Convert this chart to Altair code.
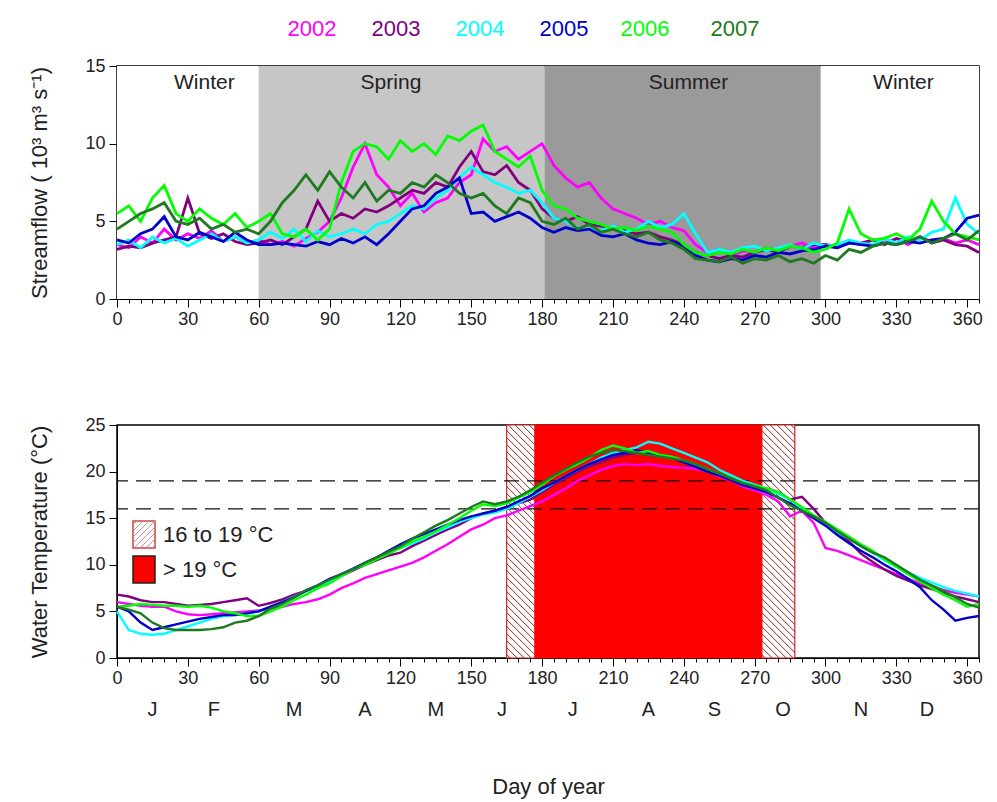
import altair as alt
import pandas as pd

# ---------------- data ----------------
days = list(range(0, 366, 5))
years = ["2002", "2003", "2004", "2005", "2006", "2007"]
year_colors = ["#ff00ff", "#800080", "#00ffff", "#0000cc", "#00ff00", "#1f7a1f"]

flow_2002 = [3.5, 3.3, 4.0, 3.6, 4.5, 3.8, 4.2, 3.9, 4.4, 3.7,
             4.0, 3.6, 3.8, 3.5, 3.7, 3.4, 3.9, 4.3, 5.0, 6.5,
             8.5, 10.0, 8.0, 7.2, 6.0, 6.8, 5.6, 6.2, 6.5, 7.5,
             8.0, 10.3, 9.5, 9.8, 9.0, 9.5, 10.0, 8.6, 7.8, 7.2,
             7.5, 6.5, 5.8, 5.5, 5.2, 4.8, 5.0, 4.6, 4.4, 3.5,
             3.0, 3.2, 2.8, 3.1, 3.0, 3.3, 3.1, 3.4, 3.6, 3.3,
             3.5, 3.3, 3.7, 3.5, 3.8, 3.6, 3.9, 3.5, 4.0, 3.7,
             3.9, 3.6, 3.8, 3.5]
flow_2003 = [3.2, 3.4, 3.3, 3.6, 3.8, 4.0, 6.5, 4.2, 3.9, 4.2,
             3.7, 3.5, 3.6, 3.8, 3.5, 4.0, 4.5, 6.3, 5.0, 5.5,
             5.2, 5.8, 5.6, 6.0, 6.5, 7.0, 6.8, 7.5, 7.2, 8.5,
             9.5, 8.2, 8.0, 8.6, 7.5, 7.0, 5.8, 5.2, 5.0, 5.3,
             4.8, 4.7, 4.5, 4.4, 4.2, 4.3, 4.0, 3.8, 3.5, 3.0,
             2.8, 2.6, 2.8, 2.7, 3.0, 3.2, 3.0, 3.4, 3.3, 3.5,
             3.5, 3.4, 3.7, 3.6, 3.8, 3.5, 3.9, 3.7, 4.0, 3.6,
             3.8, 3.5, 3.4, 3.0]
flow_2004 = [3.5, 3.8, 3.3, 4.0, 3.6, 3.9, 3.4, 3.8, 4.2, 3.7,
             4.0, 3.6, 3.8, 4.3, 3.9, 4.5, 3.7, 4.4, 4.0, 4.2,
             4.5, 4.2, 4.8, 5.0, 5.5, 6.0, 5.8, 6.5, 7.0, 7.8,
             8.5, 8.0, 7.5, 7.2, 6.8, 7.0, 6.2, 5.2, 5.0, 4.6,
             4.5, 4.4, 4.7, 4.3, 4.5, 5.0, 4.6, 4.8, 5.5, 4.2,
             3.0, 3.2, 3.0, 3.3, 3.4, 3.1, 3.3, 3.5, 3.2, 3.6,
             3.4, 3.5, 3.8, 3.6, 3.5, 3.9, 3.6, 4.0, 3.8, 4.3,
             4.5, 6.5, 4.8, 4.2]
flow_2005 = [3.8, 3.6, 4.2, 4.5, 5.3, 4.0, 3.8, 4.3, 4.0, 3.7,
             4.3, 3.8, 3.5, 3.5, 3.6, 3.5, 3.4, 3.7, 3.5, 3.9,
             3.6, 4.0, 3.5, 4.2, 5.0, 5.8, 6.0, 6.8, 7.2, 7.8,
             5.5, 5.6, 5.0, 5.3, 5.6, 5.2, 4.6, 4.3, 4.6, 4.4,
             4.5, 4.1, 4.0, 4.2, 3.8, 3.6, 3.5, 3.7, 3.4, 2.8,
             2.5, 2.4, 2.6, 2.5, 2.8, 2.7, 3.0, 2.9, 3.1, 3.2,
             3.4, 3.3, 3.6, 3.5, 3.4, 3.6, 3.5, 3.7, 3.6, 3.8,
             3.9, 4.3, 5.2, 5.4]
flow_2006 = [5.5, 6.0, 5.0, 6.5, 7.3, 5.5, 5.0, 5.8, 5.2, 4.8,
             5.5, 4.6, 5.0, 5.5, 4.2, 4.0, 4.5, 3.8, 4.5, 7.5,
             9.5, 10.0, 9.8, 9.0, 10.2, 9.5, 10.0, 9.3, 10.5, 10.2,
             10.8, 11.2, 9.5, 9.0, 8.5, 9.2, 7.0, 6.0, 5.8, 5.2,
             5.0, 4.8, 4.5, 4.6, 4.4, 4.7, 4.5, 4.3, 3.5, 3.0,
             2.8, 3.0, 2.9, 3.2, 3.0, 3.3, 3.1, 3.4, 3.3, 3.0,
             3.2, 3.6, 5.8, 4.2, 3.8, 3.9, 4.2, 3.8, 4.5, 6.3,
             5.0, 4.2, 4.0, 3.8]
flow_2007 = [4.5, 5.0, 5.5, 5.8, 6.2, 5.0, 4.8, 5.2, 4.5, 4.8,
             4.3, 4.5, 4.2, 5.0, 6.2, 7.0, 8.0, 7.0, 8.2, 7.2,
             6.5, 7.5, 6.3, 7.0, 6.8, 7.5, 7.2, 8.0, 7.5, 6.8,
             6.5, 6.8, 6.0, 5.5, 6.5, 6.2, 5.0, 4.8, 5.2, 4.5,
             4.8, 4.3, 4.5, 4.2, 4.0, 4.3, 3.8, 3.6, 3.2, 2.6,
             2.5, 2.4, 2.7, 2.3, 2.6, 2.5, 2.8, 2.4, 2.6, 2.3,
             2.8, 2.5, 3.2, 3.0, 3.4, 3.6, 3.5, 3.7, 4.0, 3.6,
             3.9, 4.2, 3.8, 4.4]

temp_2002 = [6.0, 5.8, 5.6, 5.5, 5.5, 5.0, 4.7, 4.6, 4.7, 4.8,
             4.9, 5.0, 5.1, 5.3, 5.5, 5.8, 6.0, 6.3, 6.8, 7.5,
             8.0, 8.6, 9.0, 9.4, 9.8, 10.2, 10.8, 11.5, 12.2, 13.0,
             13.8, 14.3, 15.0, 15.3, 15.8, 16.3, 16.8, 17.5, 18.2, 19.0,
             19.6, 20.2, 20.6, 20.8, 20.7, 20.8, 20.6, 20.5, 20.4, 20.3,
             20.0, 19.5, 19.0, 18.4, 18.0, 17.5, 16.8, 15.2, 15.8, 14.5,
             11.8, 11.5, 11.0, 10.5, 10.0, 9.5, 9.0, 8.5, 8.0, 7.6,
             7.3, 7.0, 6.8, 6.6]
temp_2003 = [6.8, 6.6, 6.2, 6.0, 6.0, 5.8, 5.6, 5.7, 5.8, 6.0,
             6.2, 6.4, 5.6, 5.9, 6.3, 6.8, 7.2, 7.6, 8.2, 8.8,
             9.4, 10.0, 10.5, 11.0, 11.3, 12.0, 12.6, 13.2, 13.8, 14.3,
             15.0, 15.5, 15.8, 16.2, 16.6, 17.0, 17.8, 18.6, 19.3, 20.0,
             20.6, 21.0, 21.5, 21.8, 22.0, 21.8, 21.7, 21.5, 21.0, 20.5,
             20.0, 19.6, 19.0, 18.5, 18.3, 18.2, 17.8, 17.0, 17.3, 16.0,
             14.5, 13.5, 12.5, 11.2, 10.3, 9.5, 8.8, 8.3, 7.8, 7.4,
             7.0, 6.6, 6.3, 6.0]
temp_2004 = [5.0, 3.0, 2.6, 2.5, 2.6, 3.0, 3.4, 3.8, 4.2, 4.5,
             4.6, 4.8, 5.0, 5.5, 6.0, 6.6, 7.2, 7.6, 8.2, 8.8,
             9.5, 10.2, 10.8, 11.3, 11.8, 12.3, 12.8, 13.5, 14.0, 14.6,
             15.0, 15.4, 15.6, 16.0, 16.6, 17.3, 18.0, 18.8, 19.5, 20.2,
             20.8, 21.5, 22.0, 22.3, 22.6, 23.2, 23.0, 22.5, 22.0, 21.5,
             21.0, 20.2, 19.6, 19.0, 18.6, 18.2, 17.6, 17.0, 16.0, 15.2,
             14.3, 13.5, 12.8, 12.0, 11.3, 10.5, 9.8, 9.2, 8.6, 8.1,
             7.6, 7.2, 6.9, 6.6]
temp_2005 = [5.5, 5.0, 3.8, 3.0, 3.3, 3.6, 3.9, 4.2, 4.4, 4.6,
             4.6, 4.8, 5.0, 5.5, 6.0, 6.5, 7.2, 7.8, 8.5, 9.0,
             9.6, 10.2, 10.8, 11.5, 12.2, 12.8, 13.3, 13.8, 14.3, 14.8,
             15.2, 15.5, 15.8, 16.2, 16.8, 17.4, 18.2, 18.8, 19.5, 20.2,
             20.8, 21.3, 21.8, 22.0, 22.3, 22.0, 21.8, 21.5, 21.0, 20.5,
             20.0, 19.6, 19.2, 18.6, 18.2, 17.8, 17.2, 16.6, 15.8, 15.0,
             14.2, 13.2, 12.3, 11.5, 10.8, 10.0, 9.3, 8.5, 7.6, 6.2,
             5.2, 4.0, 4.3, 4.5]
temp_2006 = [5.5, 5.6, 5.8, 5.7, 5.6, 5.6, 5.5, 5.6, 5.4, 5.0,
             4.8, 4.5, 4.5, 5.0, 5.5, 6.2, 6.8, 7.5, 8.0, 8.8,
             9.5, 10.0, 10.6, 11.2, 11.8, 12.5, 13.0, 13.6, 14.3, 15.0,
             15.8, 16.5, 16.3, 16.6, 17.2, 17.8, 18.6, 19.5, 20.2, 20.8,
             21.5, 22.3, 22.8, 22.5, 22.0, 22.2, 21.8, 21.6, 21.2, 20.8,
             20.3, 19.8, 19.3, 18.8, 18.5, 18.2, 17.8, 17.0, 16.2, 15.3,
             14.6, 13.8, 13.0, 12.2, 11.5, 10.6, 9.8, 9.0, 8.2, 7.5,
             6.8, 6.2, 5.5, 5.8]
temp_2007 = [5.5, 5.2, 4.8, 3.8, 3.2, 3.0, 3.0, 3.0, 3.1, 3.3,
             3.8, 4.0, 4.5, 5.3, 5.8, 6.5, 7.3, 7.8, 8.4, 9.0,
             9.5, 10.2, 10.8, 11.4, 12.0, 12.8, 13.5, 14.2, 14.8, 15.5,
             16.2, 16.8, 16.5, 16.8, 17.3, 18.0, 18.8, 19.6, 20.3, 21.0,
             21.6, 22.0, 22.3, 22.2, 22.0, 21.8, 21.6, 21.4, 21.2, 20.8,
             20.3, 19.8, 19.3, 18.8, 18.4, 18.0, 17.2, 16.4, 15.8, 15.2,
             14.5, 13.6, 12.8, 12.0, 11.3, 10.8, 10.0, 9.2, 8.4, 7.8,
             7.2, 6.5, 5.8, 5.4]

season_names = ["Winter", "Spring", "Summer", "Winter"]
season_start = [0, 60, 181, 298]
season_end = [60, 181, 298, 365]
season_fill = ["#ffffff", "#c6c6c6", "#9a9a9a", "#ffffff"]
season_label_day = [37, 116, 242, 333]

warm_start = [165, 273]      # 16-19 C bands
warm_end = [177, 287]
hot_start = [177]            # > 19 C band
hot_end = [273]
thresholds = [16, 19]

month_letters = ["J", "F", "M", "A", "M", "J", "J", "A", "S", "O", "N", "D"]
month_days = [15, 41, 75, 105, 135, 163, 193, 225, 253, 282, 315, 343]

flows = [flow_2002, flow_2003, flow_2004, flow_2005, flow_2006, flow_2007]
temps = [temp_2002, temp_2003, temp_2004, temp_2005, temp_2006, temp_2007]
for s in flows + temps:
    assert len(s) == len(days), len(s)

# ---------------- layout constants ----------------
W, H = 862, 233
XMAX, FLOW_MAX, TEMP_MAX = 365, 15, 25
FONT = "Liberation Sans"
TXT = "#222222"

flow_df = pd.DataFrame([(d, y, v) for y, s in zip(years, flows) for d, v in zip(days, s)],
                       columns=["day", "year", "flow"])
temp_df = pd.DataFrame([(d, y, v) for y, s in zip(years, temps) for d, v in zip(days, s)],
                       columns=["day", "year", "temp"])
season_df = pd.DataFrame({"name": season_names, "start": season_start, "end": season_end,
                          "fill": season_fill, "mid": season_label_day})

color_scale = alt.Scale(domain=years, range=year_colors)
x_scale = alt.Scale(domain=[0, XMAX], nice=False, zero=False)

def x_axis(title=None):
    kw = dict(values=list(range(0, 366, 5)),
              labelExpr="datum.value % 30 === 0 ? datum.label : ''",
              tickSize={"condition": {"test": "datum.value % 30 === 0", "value": 8}, "value": 4},
              labelFontSize=18, labelFont=FONT, labelColor=TXT, labelPadding=3,
              labelOverlap=False, grid=False, domainColor="black", tickColor="black",
              labelFlush=False)
    if title:
        kw["title"] = title
    return alt.Axis(**kw)

def y_axis(title, vals, pad):
    return alt.Axis(values=vals, title=title, grid=False, tickSize=8, labelFontSize=18,
                    labelFont=FONT, labelColor=TXT, titleFontSize=22, titleFont=FONT,
                    titleFontWeight="normal", titleColor=TXT, titlePadding=pad,
                    domainColor="black", tickColor="black", labelPadding=4)

# ---------------- top panel ----------------
seasons = alt.Chart(season_df).mark_rect().encode(
    x=alt.X("start:Q", scale=x_scale, axis=x_axis(), title=None),
    x2="end:Q",
    y=alt.value(0), y2=alt.value(H),
    color=alt.Color("fill:N", scale=None),
)
season_text = alt.Chart(season_df).mark_text(fontSize=21, font=FONT, color=TXT).encode(
    x=alt.X("mid:Q", scale=x_scale, axis=x_axis(), title=None), y=alt.value(17), text="name:N")

flow_lines = alt.Chart(flow_df).mark_line(strokeWidth=2.8).encode(
    x=alt.X("day:Q", scale=x_scale, axis=x_axis(), title=None),
    y=alt.Y("flow:Q", scale=alt.Scale(domain=[0, FLOW_MAX], nice=False),
            axis=y_axis("Streamflow ( 10³ m³ s⁻¹)", [0, 5, 10, 15], 33)),
    color=alt.Color("year:N", scale=color_scale, legend=None),
)

legend_x_px = [195, 279, 363, 447, 528, 618]
year_legend_df = pd.DataFrame({"year": years, "lx": legend_x_px})
year_legend = alt.Chart(year_legend_df).mark_text(fontSize=22, font=FONT).encode(
    x=alt.X("lx:Q", scale=None), y=alt.value(-37), text="year:N",
    color=alt.Color("year:N", scale=color_scale, legend=None))

top = alt.layer(seasons, season_text, flow_lines, year_legend).properties(width=W, height=H)

# ---------------- bottom panel ----------------
px_per_day = W / XMAX
px_per_deg = H / TEMP_MAX

def hatch_segments(d0, d1, spacing=7.0):
    L, R = d0 * px_per_day, d1 * px_per_day
    rows = []
    c = L + spacing / 2
    while c < R + H:
        xa, xb = max(L, c - H), min(R, c)
        if xb > xa:
            # "\" lines: y_up = c - x_px
            rows.append({"x": xa / px_per_day, "x2": xb / px_per_day,
                         "y": (c - xa) / px_per_deg, "y2": (c - xb) / px_per_deg})
        c += spacing
    return rows

hatch_rows = []
for a, b in zip(warm_start, warm_end):
    hatch_rows += hatch_segments(a, b)
hatch_df = pd.DataFrame(hatch_rows)
warm_df = pd.DataFrame({"start": warm_start, "end": warm_end})
hot_df = pd.DataFrame({"start": hot_start, "end": hot_end})

temp_y_scale = alt.Scale(domain=[0, TEMP_MAX], nice=False)
XT = "Day of year"

warm_rect = alt.Chart(warm_df).mark_rect(fill="white", stroke="#d42020", strokeWidth=1.2).encode(
    x=alt.X("start:Q", scale=x_scale, axis=x_axis(XT), title=XT),
    x2="end:Q", y=alt.value(0), y2=alt.value(H))
hatch = alt.Chart(hatch_df).mark_rule(color="#8a2a2a", strokeWidth=1).encode(
    x=alt.X("x:Q", scale=x_scale, axis=x_axis(XT), title=XT), x2="x2:Q",
    y=alt.Y("y:Q", scale=temp_y_scale), y2="y2:Q")
hot_rect = alt.Chart(hot_df).mark_rect(fill="#ff0000", stroke="#ff0000").encode(
    x=alt.X("start:Q", scale=x_scale, axis=x_axis(XT), title=XT), x2="end:Q",
    y=alt.value(0), y2=alt.value(H))

thr_df = pd.DataFrame({"t": thresholds})
thr = alt.Chart(thr_df).mark_rule(color="#111111", strokeWidth=1.4, strokeDash=[15, 8]).encode(
    y=alt.Y("t:Q", scale=temp_y_scale))

temp_lines = alt.Chart(temp_df).mark_line(strokeWidth=2.4).encode(
    x=alt.X("day:Q", scale=x_scale, axis=x_axis(XT), title=XT),
    y=alt.Y("temp:Q", scale=temp_y_scale,
            axis=y_axis("Water Temperature (°C)", [0, 5, 10, 15, 20, 25], 33)),
    color=alt.Color("year:N", scale=color_scale, legend=None),
)

one = pd.DataFrame({"a": [0]})
# legend boxes (pixel positions inside the plot)
lb_x0, lb_x1 = 16, 38
lb1_y0, lb1_y1 = 96, 123
lb2_y0, lb2_y1 = 131, 158
leg_hatch_box = alt.Chart(one).mark_rect(fill="white", stroke="#d04040", strokeWidth=1.5).encode(
    x=alt.value(lb_x0), x2=alt.value(lb_x1), y=alt.value(lb1_y0), y2=alt.value(lb1_y1))
leg_rows = []
bh = lb1_y1 - lb1_y0
c = lb_x0 + 4
while c < lb_x1 + bh:
    xa, xb = max(lb_x0, c - bh), min(lb_x1, c)
    if xb > xa:
        leg_rows.append({"px": xa, "px2": xb,
                         "py": lb1_y1 - (xa - (c - bh)),
                         "py2": lb1_y1 - (xb - (c - bh))})
    c += 6
leg_hatch = alt.Chart(pd.DataFrame(leg_rows)).mark_rule(color="#c09a9a", strokeWidth=1).encode(
    x=alt.X("px:Q", scale=None), x2="px2:Q", y=alt.Y("py:Q", scale=None), y2="py2:Q")
leg_red_box = alt.Chart(one).mark_rect(fill="#ff0000", stroke="#222222", strokeWidth=1.5).encode(
    x=alt.value(lb_x0), x2=alt.value(lb_x1), y=alt.value(lb2_y0), y2=alt.value(lb2_y1))
leg_t1 = alt.Chart(one).mark_text(text="16 to 19 °C", align="left", baseline="middle",
                                  fontSize=22, font=FONT, color=TXT).encode(
    x=alt.value(46), y=alt.value((lb1_y0 + lb1_y1) / 2))
leg_t2 = alt.Chart(one).mark_text(text="> 19 °C", align="left", baseline="middle",
                                  fontSize=22, font=FONT, color=TXT).encode(
    x=alt.value(46), y=alt.value((lb2_y0 + lb2_y1) / 2))

month_df = pd.DataFrame({"m": month_letters, "d": month_days})
months = alt.Chart(month_df).mark_text(fontSize=20, font=FONT, color=TXT).encode(
    x=alt.X("d:Q", scale=x_scale, axis=x_axis(XT), title=XT),
    y=alt.value(H + 52), text="m:N")

bottom = alt.layer(warm_rect, hatch, hot_rect, thr, temp_lines, leg_hatch_box, leg_hatch,
                   leg_red_box, leg_t1, leg_t2, months).properties(width=W, height=H)

chart = alt.vconcat(
    top, bottom, spacing=126, bounds="flush"
).configure_view(stroke="black", strokeWidth=1.5).configure_axisX(
    titleFontSize=22, titleFont=FONT, titleFontWeight="normal", titleColor=TXT,
    titlePadding=89, labelOverlap=False
).properties(padding={"left": 20, "top": 9, "right": 2, "bottom": 5})

chart.save("out.html", embed_options={"renderer": "svg", "actions": False})
